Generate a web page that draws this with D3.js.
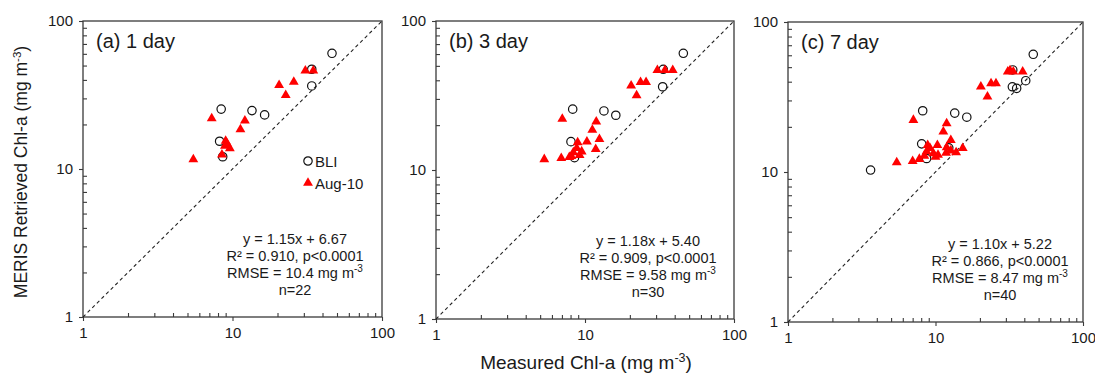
<!DOCTYPE html>
<html>
<head>
<meta charset="utf-8">
<script src="https://cdn.jsdelivr.net/npm/d3@7"></script>
<style>
  body { margin: 0; background: #fff; }
  svg { font-family: "Liberation Sans", Arial, sans-serif; }
</style>
</head>
<body>
<svg id="svg1" width="1095" height="376"></svg>
<script>
// points: [measured, retrieved]
var bli1 = [[46.3,60.5],[33.9,47.2],[33.9,36.4],[8.4,25.4],[13.5,24.8],[16.4,23.2],[8.2,15.4],[8.6,12.1]];
var aug1 = [[5.47,11.6],[7.26,22.0],[12.1,21.2],[11.3,18.5],[20.5,36.9],[25.7,38.7],[22.7,31.5],[30.7,46.1],[34.7,46.1],
            [9.0,15.5],[8.9,14.3],[9.6,13.8],[8.5,12.5],[9.2,14.8]];

var bli3 = [[45.7,60.7],[33.5,47.4],[33.2,36.2],[8.27,25.6],[13.4,24.9],[16.1,23.3],[8.05,15.5],[8.5,12.1]];
var aug3 = [[5.33,11.8],[7.04,22.0],[6.93,12.0],[7.85,12.2],[8.93,15.3],[8.8,14.0],[9.5,13.3],[8.35,13.1],[10.3,15.5],
            [11.9,21.1],[11.2,18.6],[12.5,16.1],[11.8,13.8],[20.4,36.8],[22.2,31.7],[23.6,38.8],[25.7,38.8],
            [30.6,46.7],[34.4,46.7],[38.8,46.7],[9.2,12.6],[8.1,12.4]];

var bli7 = [[46.0,60.9],[33.4,47.9],[40.9,40.6],[33.2,37.0],[35.5,36.1],[8.19,25.6],[13.5,24.7],[16.3,23.2],
            [8.06,15.4],[8.7,12.3],[3.63,10.3],[12.3,14.5]];
var aug7 = [[5.46,11.6],[7.08,22.2],[7.0,11.8],[7.77,12.2],[8.4,12.8],[8.85,15.1],[9.18,14.4],[8.7,13.7],[9.67,13.3],
            [10.3,15.1],[10.4,13.0],[11.9,21.1],[11.3,18.6],[12.7,16.3],[11.9,14.6],[11.8,13.4],[13.8,13.5],
            [12.7,13.9],[15.3,14.4],[10.0,12.6],[20.3,37.0],[22.5,31.8],[23.8,39.0],[25.7,39.0],[30.9,46.6],
            [33.7,46.6],[39.0,46.6],[32.0,47.5]];

var panelLabels = ["(a) 1 day", "(b) 3 day", "(c) 7 day"];
var fitLines = [
  ["y = 1.15x + 6.67", "R\u00b2 = 0.910, p<0.0001", "10.4", "n=22"],
  ["y = 1.18x + 5.40", "R\u00b2 = 0.909, p<0.0001", "9.58", "n=30"],
  ["y = 1.10x + 5.22", "R\u00b2 = 0.866, p<0.0001", "8.47", "n=40"]
];
var majorTicks = [1, 10, 100];
var minorTicks = [2,3,4,5,6,7,8,9,20,30,40,50,60,70,80,90];

var panels = [
  {left: 83,  top: 21, w: 299, h: 296, bli: bli1, aug: aug1},
  {left: 436, top: 21, w: 298, h: 298, bli: bli3, aug: aug3},
  {left: 788, top: 22, w: 295, h: 300, bli: bli7, aug: aug7}
];

var svg = d3.select('#svg1');
var axisCol = '#3a3a3a';
var textCol = '#1a1a1a';

panels.forEach(function(p, i){
  var g = svg.append('g')
      .attr('transform', 'translate(' + p.left + ',' + p.top + ')');

  var x = d3.scaleLog().domain([1, 100]).range([0, p.w]);
  var y = d3.scaleLog().domain([1, 100]).range([p.h, 0]);

  // frame
  g.append('rect')
      .attr('width', p.w).attr('height', p.h)
      .attr('fill', 'none').attr('stroke', axisCol).attr('stroke-width', 1.3);

  // minor ticks point inward
  g.append('g').attr('transform', 'translate(0,' + p.h + ')')
      .call(d3.axisBottom(x).tickValues(minorTicks).tickSize(-4).tickFormat(''))
      .call(function(s){ s.select('.domain').remove(); });
  g.append('g')
      .call(d3.axisLeft(y).tickValues(minorTicks).tickSize(-4).tickFormat(''))
      .call(function(s){ s.select('.domain').remove(); });

  // major ticks + labels
  g.append('g').attr('transform', 'translate(0,' + p.h + ')')
      .call(d3.axisBottom(x).tickValues(majorTicks).tickSize(4).tickPadding(6).tickFormat(d3.format('d')))
      .call(function(s){ s.select('.domain').remove(); });
  g.append('g')
      .call(d3.axisLeft(y).tickValues(majorTicks).tickSize(4).tickPadding(6).tickFormat(d3.format('d')))
      .call(function(s){ s.select('.domain').remove(); });

  g.selectAll('.tick line').attr('stroke', axisCol).attr('stroke-width', 1.1);
  g.selectAll('.tick text')
      .attr('fill', textCol)
      .style('font-size', '15px')
      .style('font-family', '"Liberation Sans", Arial, sans-serif');

  // 1:1 line
  g.append('line')
      .attr('x1', x(1)).attr('y1', y(1))
      .attr('x2', x(100)).attr('y2', y(100))
      .attr('stroke', '#222').attr('stroke-width', 1.1)
      .attr('stroke-dasharray', '3.5,3');

  // BLI circles
  g.selectAll('circle.bli')
      .data(p.bli)
      .enter()
      .append('circle')
      .attr('class', 'bli')
      .attr('cx', function(d){ return x(d[0]); })
      .attr('cy', function(d){ return y(d[1]); })
      .attr('r', 4.2)
      .attr('fill', 'none')
      .attr('stroke', '#111')
      .attr('stroke-width', 1.2);

  // Aug-10 triangles
  var tri = d3.symbol().type(d3.symbolTriangle).size(42);
  g.selectAll('path.aug')
      .data(p.aug)
      .enter()
      .append('path')
      .attr('class', 'aug')
      .attr('d', tri)
      .attr('transform', function(d){ return 'translate(' + x(d[0]) + ',' + y(d[1]) + ')'; })
      .attr('fill', '#ff0000');

  // panel label
  g.append('text')
      .attr('x', 13).attr('y', 27)
      .attr('fill', textCol)
      .style('font-size', '20px')
      .text(panelLabels[i]);

  // fit stats
  var cx = 212;
  var base = p.h - 73;
  var t = fitLines[i];
  [t[0], t[1]].forEach(function(s, k){
    g.append('text')
        .attr('x', cx).attr('y', base + k * 17)
        .attr('text-anchor', 'middle')
        .attr('fill', textCol)
        .style('font-size', '14.5px')
        .text(s);
  });
  var r = g.append('text')
      .attr('x', cx).attr('y', base + 34)
      .attr('text-anchor', 'middle')
      .attr('fill', textCol)
      .style('font-size', '14.5px');
  r.append('tspan').text('RMSE = ' + t[2] + ' mg m');
  r.append('tspan').attr('dy', -6).style('font-size', '10px').text('-3');
  g.append('text')
      .attr('x', cx).attr('y', base + 51)
      .attr('text-anchor', 'middle')
      .attr('fill', textCol)
      .style('font-size', '14.5px')
      .text(t[3]);

  // legend only in the first panel
  if (i === 0) {
    var lg = g.append('g').attr('transform', 'translate(225,140)');
    lg.append('circle').attr('cx', 0).attr('cy', 0).attr('r', 4.2)
        .attr('fill', 'none').attr('stroke', '#111').attr('stroke-width', 1.2);
    lg.append('text').attr('x', 7).attr('y', 5.5).attr('fill', textCol)
        .style('font-size', '15px').text('BLI');
    lg.append('path').attr('d', tri).attr('transform', 'translate(0,22)').attr('fill', '#ff0000');
    lg.append('text').attr('x', 7).attr('y', 27.5).attr('fill', textCol)
        .style('font-size', '15px').text('Aug-10');
  }
});

// y axis title
var yt = svg.append('text')
    .attr('transform', 'translate(27,172) rotate(-90)')
    .attr('text-anchor', 'middle')
    .attr('fill', textCol)
    .style('font-size', '17.5px');
yt.append('tspan').text('MERIS Retrieved Chl-a (mg m');
yt.append('tspan').attr('dy', -6).style('font-size', '11.5px').text('-3');
yt.append('tspan').attr('dy', 6).text(')');

// x axis title
var xt = svg.append('text')
    .attr('x', 586).attr('y', 369)
    .attr('text-anchor', 'middle')
    .attr('fill', textCol)
    .style('font-size', '19px');
xt.append('tspan').text('Measured Chl-a (mg m');
xt.append('tspan').attr('dy', -7).style('font-size', '12.5px').text('-3');
xt.append('tspan').attr('dy', 7).text(')');
</script>
</body>
</html>
